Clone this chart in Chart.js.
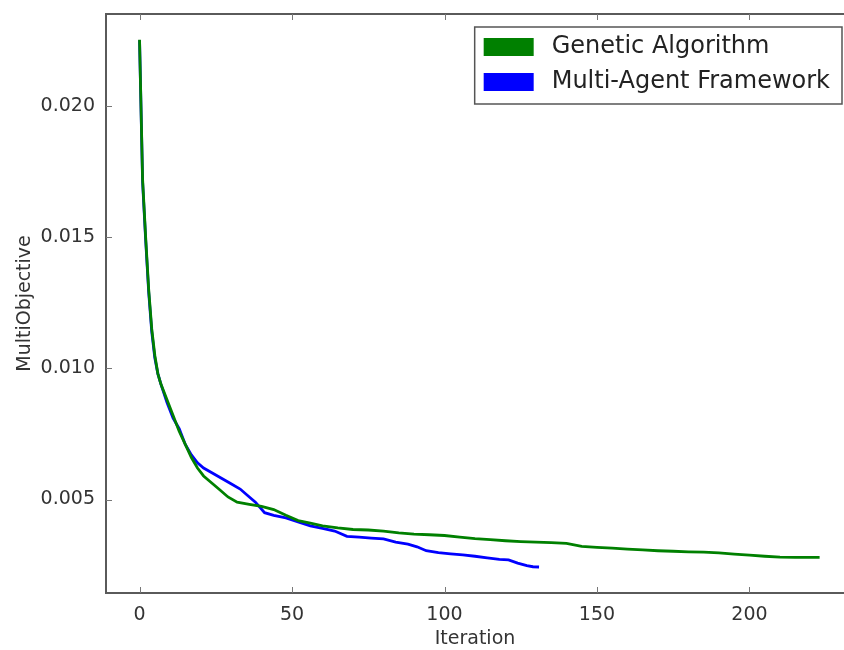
<!DOCTYPE html>
<html>
<head>
<meta charset="utf-8">
<title>MultiObjective vs Iteration</title>
<script src="https://cdn.jsdelivr.net/npm/chart.js@4.4.0/dist/chart.umd.min.js"></script>
<style>
  html, body { margin: 0; padding: 0; background: #fff; overflow: hidden; }
  #wrap { width: 844px; height: 650px; }
</style>
</head>
<body>
<div id="wrap"><canvas id="convChart" width="844" height="650"></canvas></div>
<script>
// Genetic Algorithm convergence
const gaIter = [0, 1, 2, 3, 4, 5, 6, 7, 9, 11, 13, 15, 17, 19, 21, 23, 26, 29, 32, 36, 40, 44, 48, 52, 56, 60, 65, 70, 75, 80, 85, 90, 95, 100, 105, 110, 115, 120, 125, 130, 135, 140, 145, 150, 155, 160, 165, 170, 175, 180, 185, 190, 195, 200, 205, 210, 215, 220, 223];
const gaValue = [0.02252, 0.0172, 0.0150, 0.0130, 0.0115, 0.0105, 0.0098, 0.0094, 0.0088, 0.0082, 0.0076, 0.0071, 0.0066, 0.0062, 0.0059, 0.0057, 0.0054, 0.0051, 0.0049, 0.00482, 0.00474, 0.00462, 0.0044, 0.0042, 0.0041, 0.0040, 0.00392, 0.00386, 0.00384, 0.0038, 0.00373, 0.00368, 0.00366, 0.00363, 0.00357, 0.00351, 0.00347, 0.00343, 0.00340, 0.00338, 0.00336, 0.00333, 0.00322, 0.00318, 0.00315, 0.00311, 0.00308, 0.00305, 0.00303, 0.00301, 0.00300, 0.00297, 0.00292, 0.00288, 0.00284, 0.00281, 0.00280, 0.00280, 0.00280];

// Multi-Agent Framework convergence
const mafIter = [0, 1, 2, 3, 4, 5, 6, 7, 9, 11, 13, 15, 17, 19, 21, 24, 27, 30, 33, 36, 38, 41, 44, 48, 52, 56, 60, 64, 68, 72, 76, 80, 84, 88, 91, 94, 98, 102, 106, 110, 114, 118, 121, 124, 127, 129, 131];
const mafValue = [0.0225, 0.0171, 0.0149, 0.0129, 0.0114, 0.0104, 0.0098, 0.0094, 0.0087, 0.0081, 0.0077, 0.0071, 0.0067, 0.0064, 0.0062, 0.0060, 0.0058, 0.0056, 0.0054, 0.0051, 0.0049, 0.0045, 0.0044, 0.0043, 0.00415, 0.0040, 0.0039, 0.0038, 0.0036, 0.00357, 0.00353, 0.0035, 0.00338, 0.0033, 0.0032, 0.00305, 0.00298, 0.00293, 0.00289, 0.00284, 0.00278, 0.00272, 0.00270, 0.00258, 0.00248, 0.00244, 0.00243];

const seriesNames = ['Genetic Algorithm', 'Multi-Agent Framework'];
const seriesColors = ['#008000', '#0000ff'];
const xTicks = [0, 50, 100, 150, 200];
const yTicks = [0.005, 0.010, 0.015, 0.020];

const FONT = 'DejaVu Sans';
const toPoints = (xs, ys) => xs.map((x, i) => ({ x: x, y: ys[i] }));

// axes frame, inward ticks and a boxed legend in the upper right
const framePlugin = {
    id: 'frame',
    afterDraw(chart) {
        const { ctx, chartArea: ca, scales } = chart;
        ctx.save();

        ctx.strokeStyle = '#5a5a5a';
        ctx.lineWidth = 2;
        ctx.beginPath();
        ctx.moveTo(ca.right + 2, ca.top);
        ctx.lineTo(ca.left, ca.top);
        ctx.lineTo(ca.left, ca.bottom);
        ctx.lineTo(ca.right + 2, ca.bottom);
        ctx.stroke();

        ctx.strokeStyle = '#777';
        ctx.lineWidth = 1;
        ctx.beginPath();
        xTicks.forEach(v => {
            const px = Math.round(scales.x.getPixelForValue(v)) + 0.5;
            ctx.moveTo(px, ca.bottom);
            ctx.lineTo(px, ca.bottom - 6);
            ctx.moveTo(px, ca.top);
            ctx.lineTo(px, ca.top + 6);
        });
        yTicks.forEach(v => {
            const py = Math.round(scales.y.getPixelForValue(v)) + 0.5;
            ctx.moveTo(ca.left, py);
            ctx.lineTo(ca.left + 6, py);
        });
        ctx.stroke();

        // legend
        ctx.font = '24px "' + FONT + '"';
        const textW = Math.max(...seriesNames.map(n => ctx.measureText(n).width));
        const boxRight = ca.right - 2;
        const boxLeft = boxRight - 12 - textW - 18 - 50 - 9;
        const boxTop = ca.top + 13;
        const rowH = 35;
        const boxH = 77;
        ctx.fillStyle = '#fff';
        ctx.fillRect(boxLeft, boxTop, boxRight - boxLeft, boxH);
        ctx.strokeStyle = '#555';
        ctx.lineWidth = 1.5;
        ctx.strokeRect(boxLeft, boxTop, boxRight - boxLeft, boxH);
        ctx.textBaseline = 'middle';
        ctx.textAlign = 'left';
        seriesNames.forEach((name, i) => {
            const cy = boxTop + 20 + i * rowH;
            ctx.fillStyle = seriesColors[i];
            ctx.fillRect(boxLeft + 9, cy - 9, 50, 18);
            ctx.fillStyle = '#222';
            ctx.fillText(name, boxLeft + 77, cy);
        });

        ctx.restore();
    }
};

const ctx = document.getElementById('convChart').getContext('2d');
new Chart(ctx, {
    type: 'line',
    data: {
        datasets: [
            {
                label: seriesNames[0],
                data: toPoints(gaIter, gaValue),
                borderColor: seriesColors[0],
                borderWidth: 2.8,
                pointRadius: 0,
                tension: 0,
                fill: false
            },
            {
                label: seriesNames[1],
                data: toPoints(mafIter, mafValue),
                borderColor: seriesColors[1],
                borderWidth: 2.8,
                pointRadius: 0,
                tension: 0,
                fill: false
            }
        ]
    },
    options: {
        responsive: false,
        animation: false,
        layout: { padding: { top: 14, right: 0, left: 0, bottom: 0 } },
        plugins: {
            legend: { display: false },
            tooltip: { enabled: false }
        },
        scales: {
            x: {
                type: 'linear',
                min: -11,
                max: 231,
                grid: { display: false, drawTicks: false },
                border: { display: false },
                afterBuildTicks: s => { s.ticks = xTicks.map(v => ({ value: v })); },
                afterFit: s => { s.height = 57; s.paddingLeft = 0; s.paddingRight = 0; },
                ticks: {
                    padding: 11,
                    color: '#333',
                    font: { family: FONT, size: 19 }
                },
                title: {
                    display: true,
                    text: 'Iteration',
                    color: '#333',
                    padding: { top: 0, bottom: 0 },
                    font: { family: FONT, size: 19 }
                }
            },
            y: {
                type: 'linear',
                min: 0.00144,
                max: 0.0235,
                grid: { display: false, drawTicks: false },
                border: { display: false },
                afterBuildTicks: s => { s.ticks = yTicks.map(v => ({ value: v })); },
                afterFit: s => { s.width = 106; s.paddingTop = 0; s.paddingBottom = 0; },
                ticks: {
                    padding: 11,
                    color: '#333',
                    font: { family: FONT, size: 19 },
                    callback: v => v.toFixed(3)
                },
                title: {
                    display: true,
                    text: 'MultiObjective',
                    color: '#333',
                    padding: { top: 14, bottom: 0 },
                    font: { family: FONT, size: 19 }
                }
            }
        }
    },
    plugins: [framePlugin]
});
</script>
</body>
</html>
